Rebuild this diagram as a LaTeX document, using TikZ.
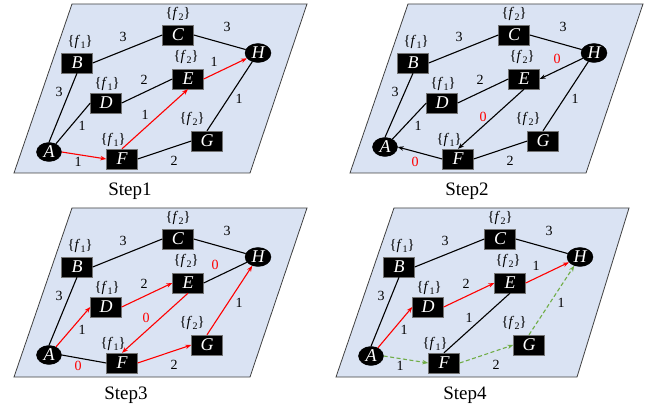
\documentclass[tikz,border=0pt]{standalone}
\usepackage{fontspec}
\setmainfont{Liberation Serif}
\usetikzlibrary{arrows.meta,shapes.geometric}
\definecolor{planebg}{HTML}{DAE3F3}
\definecolor{greendash}{HTML}{70AD47}
\tikzset{
  plane/.style={fill=planebg, draw=black!75, line width=0.8pt},
  box/.style={rectangle, fill=black, draw=black!55, line width=0.4pt, minimum width=31pt, minimum height=20pt, inner sep=0pt, text=white, font=\fontsize{18}{18}\selectfont\itshape},
  circ/.style={ellipse, fill=black, draw=black, minimum width=25pt, minimum height=19pt, inner sep=0pt, text=white, font=\fontsize{18}{18}\selectfont\itshape},
  flab/.style={inner sep=0pt, font=\fontsize{14.5}{14.5}\selectfont},
  elab/.style={inner sep=0pt, font=\fontsize{14}{14}\selectfont},
  steplab/.style={inner sep=0pt, font=\fontsize{19}{19}\selectfont},
  bl/.style={draw=black, line width=1.1pt},
  blarr/.style={draw=black, line width=1.1pt, -{Stealth[length=6pt,width=4.5pt]}},
  rarr/.style={draw=red, line width=1.1pt, -{Stealth[length=6pt,width=4.5pt]}},
  garr/.style={draw=greendash, line width=1.1pt, dash pattern=on 4pt off 2.5pt, -{Stealth[length=6pt,width=4.5pt]}},
}
\newcommand\fset[1]{\{\textit{f}\kern0.3pt\raisebox{-0.4ex}{\fontsize{10}{10}\selectfont #1}\}}
\newcommand\lab[4][black]{\node[elab,text=#1] (#2) at (#3) {#4};}
% #1 suffix, #2 A y, #3 step label x, #4 step text, #5 parallelogram bottom right x
\newcommand\gnodes[5]{%
  \draw[plane] (72,4) -- (307,4) -- (#5,173) -- (14,173) -- cycle;
  \node[circ] (A#1) at (49,#2) {A};
  \node[box] (B#1) at (77,63) {B};
  \node[box] (C#1) at (178,35) {C};
  \node[box] (D#1) at (106,103) {D};
  \node[box] (E#1) at (188,79) {E};
  \node[box] (F#1) at (122,159) {F};
  \node[box] (G#1) at (207,141) {G};
  \node[circ, minimum width=26pt] (H#1) at (258,53) {H};
  \node[flab] (fB#1) at (80,42) {\fset{1}};
  \node[flab] (fC#1) at (178,14) {\fset{2}};
  \node[flab] (fD#1) at (107,84) {\fset{1}};
  \node[flab] (fE#1) at (186,57) {\fset{2}};
  \node[flab] (fF#1) at (113,140) {\fset{1}};
  \node[flab] (fG#1) at (192,119) {\fset{2}};
  \node[steplab] (S#1) at (#3,191) {#4};
}
\begin{document}
\begin{tikzpicture}[x=1pt,y=-1pt]
\useasboundingbox (0,0) rectangle (653,411);
% ---------------- Step 1
\begin{scope}
\gnodes{1}{152}{130}{Step1}{250}
\draw[bl] (A1.north) -- (B1.south);
\draw[bl] (A1) -- (D1.west);
\draw[bl] (B1.east) -- (C1.west);
\draw[bl] (C1.east) -- (H1);
\draw[bl] (D1.east) -- (E1.west);
\draw[bl] (F1.east) -- (G1.west);
\draw[bl] (G1.north) -- (H1);
\draw[rarr] (A1.east) -- (F1.west);
\draw[rarr] (F1.north) -- (E1.south);
\draw[rarr] (E1.east) -- (H1);
\lab{l1bc}{123,37}{3}
\lab{l1ch}{227,27}{3}
\lab{l1ab}{59,92}{3}
\lab{l1ad}{82,126}{1}
\lab{l1de}{144,80}{2}
\lab{l1eh}{214,62}{1}
\lab{l1fe}{145,115}{1}
\lab{l1gh}{239,99}{1}
\lab{l1af}{78,162}{1}
\lab{l1fg}{174,161}{2}
\end{scope}
% ---------------- Step 2
\begin{scope}[shift={(336,0)}]
\gnodes{2}{147}{131}{Step2}{250}
\draw[bl] (A2.north) -- (B2.south);
\draw[bl] (A2) -- (D2.west);
\draw[bl] (B2.east) -- (C2.west);
\draw[bl] (C2.east) -- (H2);
\draw[bl] (D2.east) -- (E2.west);
\draw[bl] (F2.east) -- (G2.west);
\draw[bl] (G2.north) -- (H2);
\draw[blarr] (H2) -- (E2.east);
\draw[blarr] (E2.south) -- (F2.north);
\draw[blarr] (F2.west) -- (A2.east);
\lab{l2bc}{123,37}{3}
\lab{l2ch}{227,27}{3}
\lab{l2ab}{59,92}{3}
\lab{l2ad}{82,126}{1}
\lab{l2de}{144,80}{2}
\lab[red]{l2eh}{221,59}{0}
\lab[red]{l2fe}{147,117}{0}
\lab{l2gh}{239,99}{1}
\lab[red]{l2af}{79,162}{0}
\lab{l2fg}{174,161}{2}
\end{scope}
% ---------------- Step 3
\begin{scope}[shift={(0,204)}]
\gnodes{3}{151}{126}{Step3}{250}
\draw[bl] (A3.north) -- (B3.south);
\draw[bl] (A3.east) -- (F3.west);
\draw[bl] (B3.east) -- (C3.west);
\draw[bl] (C3.east) -- (H3);
\draw[bl] (E3.east) -- (H3);
\draw[rarr] (A3) -- (D3.west);
\draw[rarr] (D3.east) -- (E3.west);
\draw[rarr] (E3.south) -- (F3.north);
\draw[rarr] (F3.east) -- (G3.west);
\draw[rarr] (G3.north) -- (H3);
\lab{l3bc}{123,37}{3}
\lab{l3ch}{227,27}{3}
\lab{l3ab}{59,92}{3}
\lab{l3ad}{82,126}{1}
\lab{l3de}{144,80}{2}
\lab[red]{l3eh}{215,61}{0}
\lab[red]{l3fe}{146,114}{0}
\lab{l3gh}{239,99}{1}
\lab[red]{l3af}{78,162}{0}
\lab{l3fg}{174,161}{2}
\end{scope}
% ---------------- Step 4
\begin{scope}[shift={(322,204)}]
\gnodes{4}{152}{143}{Step4}{255}
\draw[bl] (A4.north) -- (B4.south);
\draw[bl] (B4.east) -- (C4.west);
\draw[bl] (C4.east) -- (H4);
\draw[bl] (E4.south) -- (F4.north);
\draw[rarr] (A4) -- (D4.west);
\draw[rarr] (D4.east) -- (E4.west);
\draw[rarr] (E4.east) -- (H4);
\draw[garr] (A4.east) -- (F4.west);
\draw[garr] (F4.east) -- (G4.west);
\draw[garr] (G4.north) -- (H4);
\lab{l4bc}{123,37}{3}
\lab{l4ch}{227,27}{3}
\lab{l4ab}{59,92}{3}
\lab{l4ad}{82,126}{1}
\lab{l4de}{144,80}{2}
\lab{l4eh}{214,62}{1}
\lab{l4fe}{147,114}{1}
\lab{l4gh}{239,99}{1}
\lab{l4af}{78,162}{1}
\lab{l4fg}{174,161}{2}
\end{scope}
\end{tikzpicture}
\end{document}
